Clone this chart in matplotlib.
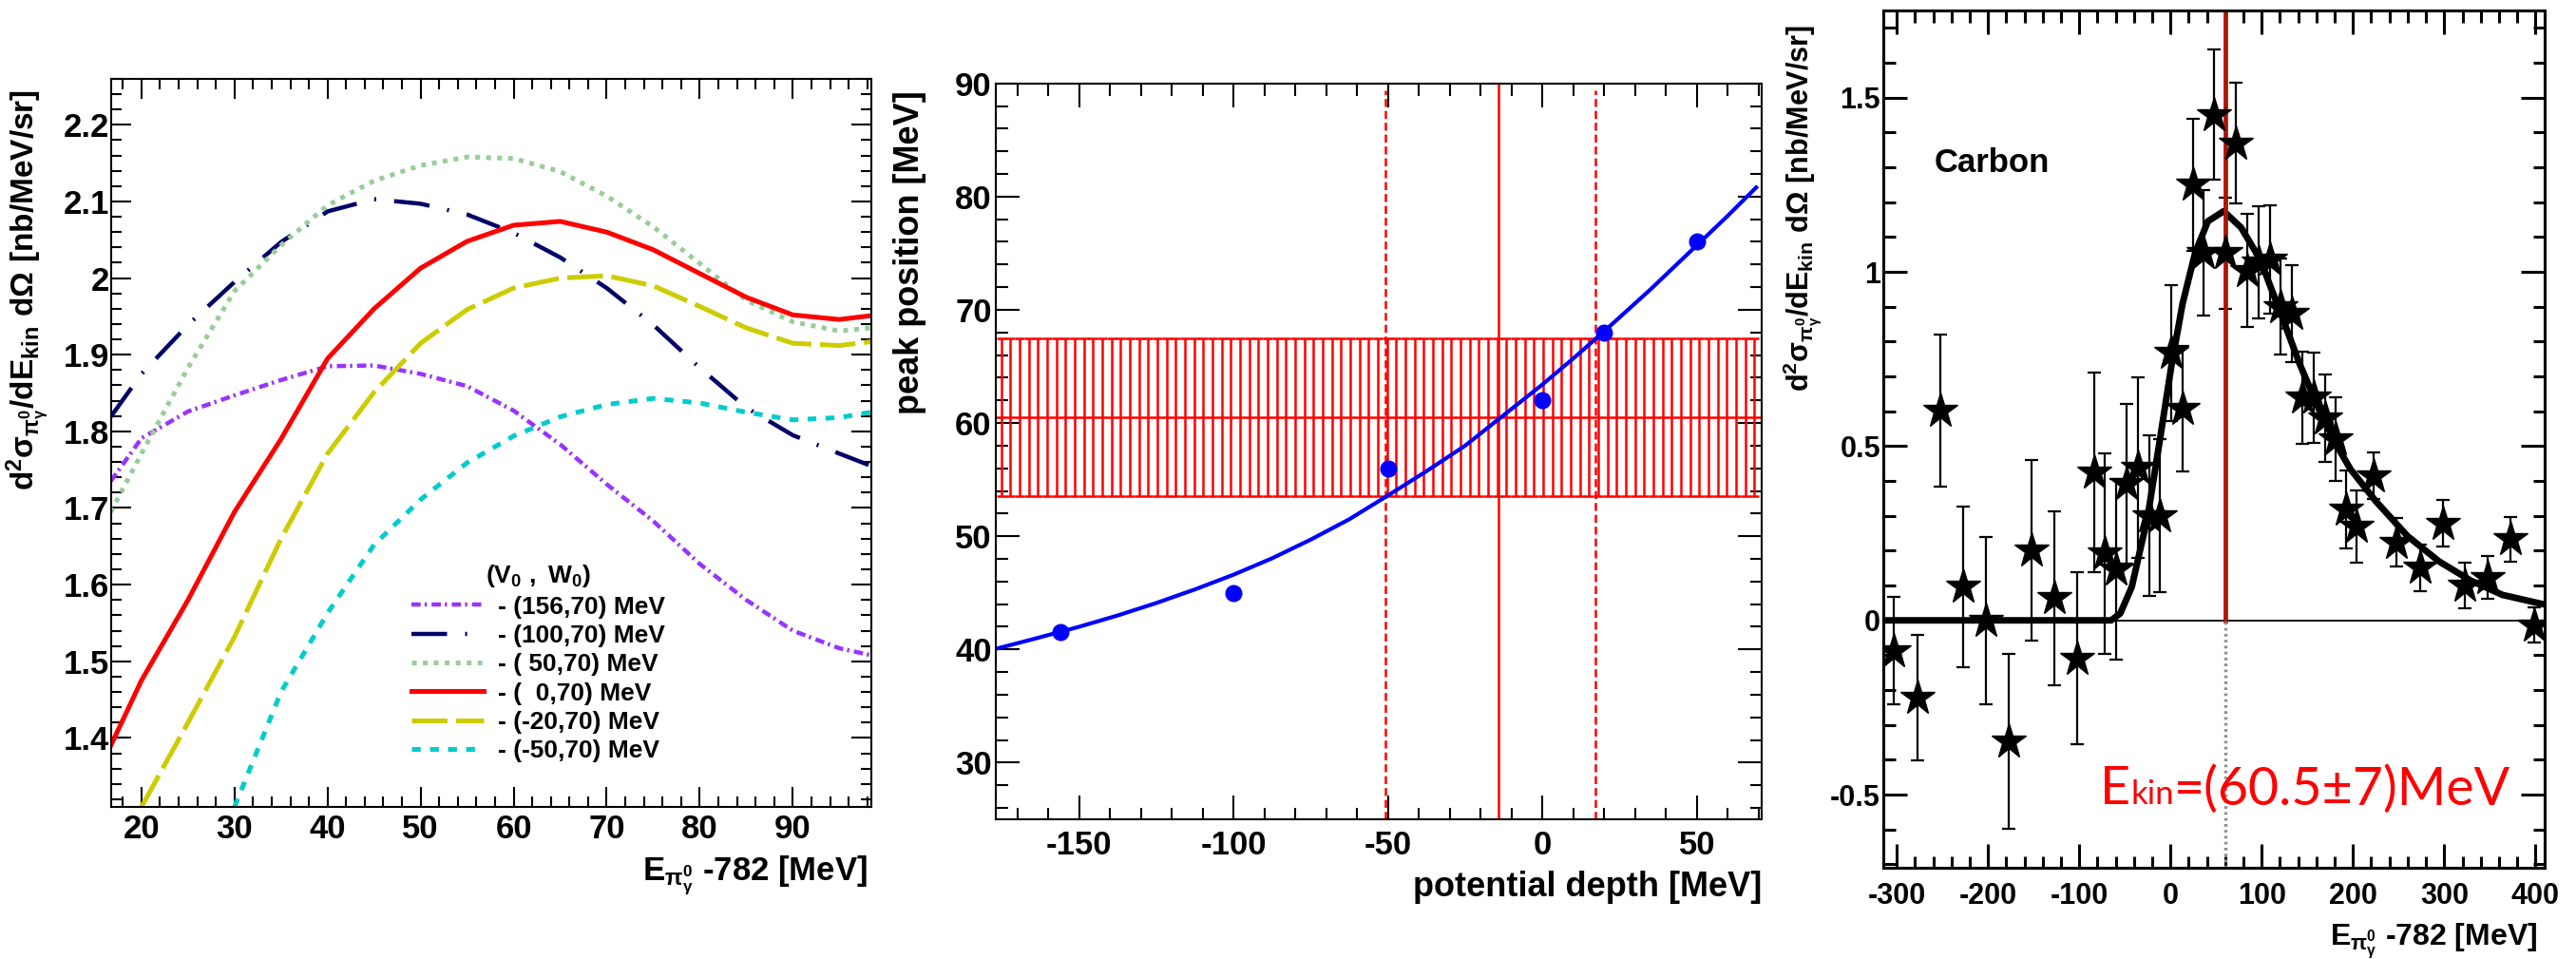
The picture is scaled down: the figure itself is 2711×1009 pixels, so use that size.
import matplotlib
matplotlib.use('Agg')
import matplotlib.pyplot as plt
import numpy as np
from matplotlib.ticker import MultipleLocator, FuncFormatter

plt.rcParams['font.family'] = ['Liberation Sans', 'DejaVu Sans']
plt.rcParams['font.weight'] = 'bold'
plt.rcParams['axes.labelweight'] = 'bold'
plt.rcParams['mathtext.fontset'] = 'custom'
plt.rcParams['mathtext.rm'] = 'Liberation Sans:bold'
plt.rcParams['mathtext.it'] = 'Liberation Sans:bold'
plt.rcParams['mathtext.bf'] = 'Liberation Sans:bold'
plt.rcParams['lines.scale_dashes'] = False
plt.rcParams['axes.unicode_minus'] = False

# ---- left panel: model curves, E_kin vs cross section ----
ekin = [16.7, 20, 25, 30, 35, 40, 45, 50, 55, 60, 65, 70, 75, 80, 85, 90, 95, 98.4]
xs_156 = [1.735, 1.791, 1.826, 1.847, 1.867, 1.885, 1.886, 1.875, 1.859, 1.827,
          1.783, 1.731, 1.683, 1.627, 1.58, 1.54, 1.517, 1.508]
xs_100 = [1.819, 1.875, 1.939, 1.995, 2.047, 2.087, 2.103, 2.097, 2.083, 2.059,
          2.027, 1.987, 1.939, 1.883, 1.831, 1.795, 1.771, 1.755]
xs_50 = [1.695, 1.771, 1.883, 1.983, 2.043, 2.095, 2.127, 2.147, 2.158, 2.156,
         2.139, 2.107, 2.067, 2.019, 1.971, 1.943, 1.931, 1.935]
xs_0 = [1.39, 1.475, 1.58, 1.695, 1.79, 1.895, 1.96, 2.013, 2.048, 2.069,
        2.074, 2.06, 2.037, 2.006, 1.975, 1.952, 1.946, 1.951]
ekin_m20 = [20, 25, 30, 35, 40, 45, 50, 55, 60, 65, 70, 75, 80, 85, 90, 95, 98.4]
xs_m20 = [1.31, 1.42, 1.532, 1.66, 1.771, 1.851, 1.915, 1.959, 1.987, 2.0,
          2.003, 1.99, 1.963, 1.935, 1.915, 1.912, 1.917]
ekin_m50 = [30, 35, 40, 45, 50, 55, 60, 65, 70, 75, 80, 85, 90, 95, 98.4]
xs_m50 = [1.31, 1.46, 1.563, 1.652, 1.711, 1.759, 1.794, 1.819, 1.835, 1.843,
          1.837, 1.825, 1.815, 1.818, 1.825]

# ---- middle panel: peak position vs potential depth ----
depth = [-156, -100, -50, 0, 20, 50]
peak = [41.5, 45.0, 56.0, 62.0, 68.0, 76.0]
fit_x = [-177, -165, -150, -137.5, -125, -112.5, -100, -87.5, -75, -62.5, -50,
         -37.5, -25, -12.5, 0, 10, 20, 35, 50, 60, 69.2]
fit_y = [40.05, 40.9, 42.0, 43.0, 44.1, 45.3, 46.6, 48.05, 49.7, 51.5, 53.6,
         55.75, 58.0, 60.7, 63.4, 65.7, 68.1, 71.8, 75.7, 78.3, 80.8]
peak_meas = 60.5
peak_err = 7.0
depth_best = -14.1
depth_lo = -50.7
depth_hi = 17.1

# ---- right panel: carbon data ----
e_data = [-303, -277, -252, -227, -202, -177, -152, -127, -102, -84, -72, -60, -48,
          -36, -23, -12, 1, 13, 25, 36, 48, 60, 72, 84, 97, 109, 121, 133, 145,
          157, 170, 181, 192, 204, 223, 248, 274, 299, 323, 348, 373, 399]
xs_data = [-0.087, -0.223, 0.602, 0.096, 0.0, -0.347, 0.201, 0.064, -0.109, 0.424,
           0.192, 0.146, 0.392, 0.438, 0.30, 0.30, 0.767, 0.607, 1.25, 1.054,
           1.451, 1.054, 1.369, 1.004, 1.027, 1.036, 0.90, 0.88, 0.639, 0.639,
           0.58, 0.52, 0.319, 0.269, 0.415, 0.224, 0.151, 0.278, 0.10, 0.123,
           0.233, -0.014]
xs_err = [0.155, 0.18, 0.218, 0.23, 0.24, 0.25, 0.258, 0.25, 0.247, 0.286, 0.288,
          0.26, 0.23, 0.26, 0.23, 0.22, 0.195, 0.18, 0.19, 0.18, 0.187, 0.16,
          0.173, 0.162, 0.16, 0.155, 0.137, 0.14, 0.132, 0.13, 0.126, 0.12, 0.112,
          0.104, 0.066, 0.07, 0.067, 0.067, 0.066, 0.062, 0.064, 0.05]
curve_e = [-315, -65, -55, -42.4, -25, -11.2, 1, 13.2, 27, 41, 58.3, 77.4, 98.2,
           120.8, 141.7, 162.5, 183.3, 197.2, 225, 259.7, 294.4, 329.2, 363.9, 409]
curve_xs = [0, 0, 0.02, 0.096, 0.297, 0.525, 0.73, 0.908, 1.054, 1.145, 1.174,
            1.127, 1.036, 0.881, 0.735, 0.607, 0.497, 0.434, 0.342, 0.242, 0.169,
            0.114, 0.073, 0.046]
ekin_fit = 60.5

fmt_g = FuncFormatter(lambda v, p: '%g' % round(v, 6))


def root_axes(ax, xmaj, xmin, ymaj, ymin, lmaj, lmin, lab, pad_x, pad_y, frame):
    ax.xaxis.set_major_locator(MultipleLocator(xmaj))
    ax.xaxis.set_minor_locator(MultipleLocator(xmin))
    ax.yaxis.set_major_locator(MultipleLocator(ymaj))
    ax.yaxis.set_minor_locator(MultipleLocator(ymin))
    ax.tick_params(which='both', direction='in', top=True, right=True, width=frame)
    ax.tick_params(which='major', length=lmaj, labelsize=lab)
    ax.tick_params(which='minor', length=lmin)
    ax.tick_params(axis='x', pad=pad_x)
    ax.tick_params(axis='y', pad=pad_y)
    for s in ax.spines.values():
        s.set_linewidth(frame)
    ax.xaxis.set_major_formatter(fmt_g)
    ax.yaxis.set_major_formatter(fmt_g)
    for t in ax.get_xticklabels() + ax.get_yticklabels():
        t.set_fontweight('bold')


fig = plt.figure(figsize=(27.11, 10.09), dpi=100)

# ================= left =================
ax1 = fig.add_axes([0.0430, 0.1586, 0.2951, 0.7592])
ax1.plot(ekin, xs_156, color='#9933ff', lw=3.2, ls=(0, (7, 3, 1.7, 3.6)),
         label='- (156,70) MeV')
ax1.plot(ekin, xs_100, color='#000066', lw=3.2, ls=(0, (27, 13.7, 1.5, 13.7)),
         label='- (100,70) MeV')
ax1.plot(ekin, xs_50, color='#99cc99', lw=3.6, ls=(0, (3.6, 4.7)),
         label='- ( 50,70) MeV')
ax1.plot(ekin, xs_0, color='#ff0000', lw=3.6, ls='-', label='- (  0,70) MeV')
ax1.plot(ekin_m20, xs_m20, color='#cccc00', lw=3.6, ls=(0, (27, 6.5)),
         label='- (-20,70) MeV')
ax1.plot(ekin_m50, xs_m50, color='#00cccc', lw=3.6, ls=(0, (6.7, 7)),
         label='- (-50,70) MeV')
ax1.set_xlim(16.7, 98.4)
ax1.set_ylim(1.31, 2.26)
root_axes(ax1, 10, 2, 0.1, 0.02, 15, 8, 25, 5, 1, 1.5)
ax1.set_ylabel(r'$\mathrm{d^2\sigma_{\pi^0_{\gamma}}/dE_{kin}\ d\Omega\ [nb/MeV/sr]}$',
               fontsize=24, loc='top')
ax1.yaxis.set_label_coords(-0.08, 0.985)
ax1.set_xlabel(r'$\mathrm{E_{\pi^0_{\gamma}}}$ -782 [MeV]', fontsize=25, loc='right')
ax1.xaxis.set_label_coords(0.996, -0.064)
leg = ax1.legend(loc='upper left', bbox_to_anchor=(0.395, 0.335), frameon=False,
                 fontsize=19, handlelength=2.9, handletextpad=0.55,
                 labelspacing=0.24, borderpad=0, borderaxespad=0,
                 title=r'$\mathrm{(V_0\ ,\ W_0)}$', title_fontsize=19)

# ================= middle =================
ax2 = fig.add_axes([0.3865, 0.1457, 0.2974, 0.7674])
band_x = np.linspace(-175.2, 68.6, 83)
ax2.errorbar(band_x, [peak_meas] * len(band_x), yerr=peak_err, fmt='none',
             ecolor='#ff0000', elinewidth=1.8, capsize=3.5, capthick=1.8)
ax2.axhline(peak_meas, color='#ff0000', lw=1.8)
ax2.axvline(depth_best, color='#ff0000', lw=1.8)
ax2.axvline(depth_lo, color='#ff0000', lw=1.8, ls=(0, (6, 3)), ymax=0.99)
ax2.axvline(depth_hi, color='#ff0000', lw=1.8, ls=(0, (6, 3)), ymax=0.99)
ax2.plot(fit_x, fit_y, color='#0000ff', lw=3)
ax2.plot(depth, peak, 'o', color='#0000ff', ms=12)
ax2.set_xlim(-177, 71)
ax2.set_ylim(25, 90)
root_axes(ax2, 50, 10, 10, 2, 18, 9, 25, 8, 3, 1.5)
ax2.set_ylabel('peak position [MeV]', fontsize=26, loc='top')
ax2.yaxis.set_label_coords(-0.09, 0.99)
ax2.set_xlabel('potential depth [MeV]', fontsize=26, loc='right')
ax2.xaxis.set_label_coords(1.0, -0.07)

# ================= right =================
ax3 = fig.add_axes([0.7310, 0.0951, 0.2568, 0.8940])
ax3.axhline(0, color='black', lw=1.3)
ax3.plot(curve_e, curve_xs, color='black', lw=5, solid_capstyle='round')
ax3.errorbar(e_data, xs_data, yerr=xs_err, fmt='*', color='black', ms=28,
             elinewidth=1.6, capsize=5, capthick=1.6)
ax3.plot([ekin_fit, ekin_fit], [0, 1.75], color='#aa1500', lw=3.4)
ax3.plot([ekin_fit, ekin_fit], [-0.71, 0], color='#909090', lw=2.5, ls=(0, (2, 2.5)))
ax3.set_xlim(-315, 410)
ax3.set_ylim(-0.71, 1.75)
root_axes(ax3, 100, 20, 0.5, 0.1, 18, 9, 22, 11, 2, 2.2)
ax3.set_ylabel(r'$\mathrm{d^2\sigma_{\pi^0_{\gamma}}/dE_{kin}\ d\Omega\ [nb/MeV/sr]}$',
               fontsize=22, loc='top')
ax3.yaxis.set_label_coords(-0.09, 0.983)
ax3.set_xlabel(r'$\mathrm{E_{\pi^0_{\gamma}}}$ -782 [MeV]', fontsize=23, loc='right')
ax3.xaxis.set_label_coords(0.9885, -0.062)
ax3.text(-259.4, 1.313, 'Carbon', fontsize=25, va='center', ha='left')

tE = ax3.text(0.328, 0.074, 'E', transform=ax3.transAxes, fontsize=40,
              family='Lato', weight='normal', color='#ff0000', va='baseline')
tk = ax3.annotate('kin', xy=(1, 0.074), xycoords=(tE, 'axes fraction'),
                  fontsize=25, family='Lato', weight='normal', color='#ff0000',
                  va='baseline', ha='left')
ax3.annotate('=(60.5\u00b17)MeV', xy=(1, 0.074), xycoords=(tk, 'axes fraction'),
             fontsize=40, family='Lato', weight='normal', color='#ff0000',
             va='baseline', ha='left')

fig.savefig('out.png', dpi=100, facecolor='white')
